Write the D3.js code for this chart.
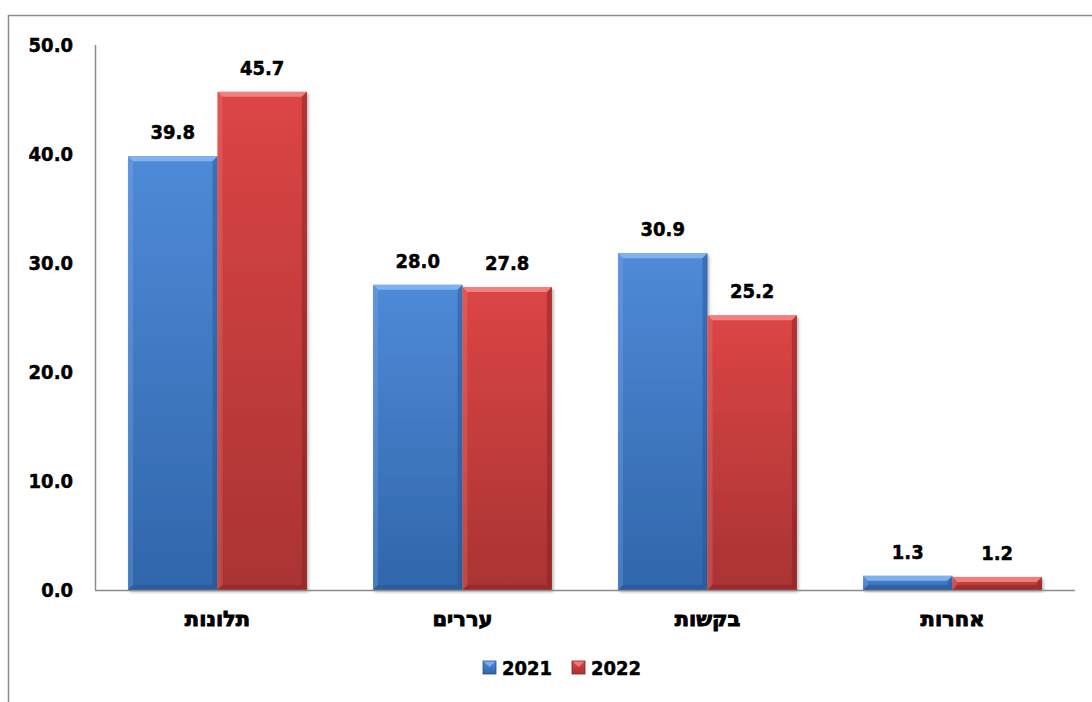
<!DOCTYPE html>
<html>
<head>
<meta charset="utf-8">
<script src="https://cdn.jsdelivr.net/npm/d3@7"></script>
<style>
  html, body { margin: 0; padding: 0; background: #fff; }
  svg { display: block; }
  text { font-family: "DejaVu Sans Condensed", "DejaVu Sans", sans-serif; font-weight: bold; fill: #000; stroke: #000; stroke-width: 0.45px; }
  text.cat { font-family: "DejaVu Sans", sans-serif; stroke-width: 0.9px; }
</style>
</head>
<body>
<svg id="chart" width="1092" height="702"></svg>
<script>
// Categories and yearly values (percent)
const categories = ["תלונות", "עררים", "בקשות", "אחרות"];
const seriesNames = ["2021", "2022"];
const values2021 = [39.8, 28.0, 30.9, 1.3];
const values2022 = [45.7, 27.8, 25.2, 1.2];
const yTicks = [0, 10, 20, 30, 40, 50];

const series = [
  { key: "s2021", name: seriesNames[0], values: values2021, top: "#4f8ad8", bottom: "#3066ab", light: "#8ab7f2", dark: "#23508c" },
  { key: "s2022", name: seriesNames[1], values: values2022, top: "#dc4545", bottom: "#aa3333", light: "#f48a8a", dark: "#7e2020" }
];

const svg = d3.select("#chart");

// chart frame
svg.append("rect")
  .attr("x", 8.5).attr("y", 15.5)
  .attr("width", 1100).attr("height", 700)
  .attr("fill", "none").attr("stroke", "#8c8c8c").attr("stroke-width", 1.5);

const plot = { left: 95, right: 1075, top: 45, bottom: 590 };

const x0 = d3.scaleBand().domain(categories).range([plot.left, plot.right]).paddingInner(0.27).paddingOuter(0.135);
const x1 = d3.scaleBand().domain(seriesNames).range([0, x0.bandwidth()]);
const y = d3.scaleLinear().domain([0, 50]).range([plot.bottom, plot.top]);

const defs = svg.append("defs");
const f = defs.append("filter").attr("id", "shadow").attr("x", "-10%").attr("y", "-10%").attr("width", "130%").attr("height", "130%");
f.append("feDropShadow").attr("dx", 1.5).attr("dy", 2).attr("stdDeviation", 1.5).attr("flood-color", "#000").attr("flood-opacity", 0.3);

// vertical gradient per series
series.forEach(s => {
  const g = defs.append("linearGradient").attr("id", "grad-" + s.key).attr("x1", 0).attr("y1", 0).attr("x2", 0).attr("y2", 1);
  g.append("stop").attr("offset", "0%").attr("stop-color", s.top);
  g.append("stop").attr("offset", "100%").attr("stop-color", s.bottom);
});

// y axis line
svg.append("line")
  .attr("x1", plot.left + 0.5).attr("x2", plot.left + 0.5)
  .attr("y1", plot.top).attr("y2", plot.bottom)
  .attr("stroke", "#8c8c8c").attr("stroke-width", 1.5);

// y tick labels
svg.append("g").selectAll("text").data(yTicks).join("text")
  .attr("x", 73).attr("y", d => y(d))
  .attr("dy", "0.35em")
  .attr("text-anchor", "end")
  .attr("font-size", 20)
  .text(d => d3.format(".1f")(d));

// bars with a bevelled look
const bev = 5;
const groups = svg.append("g").selectAll("g").data(categories).join("g")
  .attr("transform", d => `translate(${x0(d)},0)`);

series.forEach(s => {
  groups.each(function (cat, ci) {
    const g = d3.select(this).append("g").attr("filter", "url(#shadow)");
    const bx = x1(s.name), bw = x1.bandwidth();
    const by = y(s.values[ci]), bh = y(0) - by;
    const b = Math.min(bev, bh / 2, bw / 2);
    g.append("rect").attr("x", bx).attr("y", by).attr("width", bw).attr("height", bh)
      .attr("fill", `url(#grad-${s.key})`);
    // top bevel
    g.append("polygon").attr("points", [[bx, by], [bx + bw, by], [bx + bw - b, by + b], [bx + b, by + b]].join(" "))
      .attr("fill", s.light).attr("opacity", 0.85);
    // left bevel
    g.append("polygon").attr("points", [[bx, by], [bx + b, by + b], [bx + b, by + bh - b], [bx, by + bh]].join(" "))
      .attr("fill", s.light).attr("opacity", 0.25);
    // right bevel
    g.append("polygon").attr("points", [[bx + bw, by], [bx + bw, by + bh], [bx + bw - b, by + bh - b], [bx + bw - b, by + b]].join(" "))
      .attr("fill", s.dark).attr("opacity", 0.45);
    // bottom bevel
    g.append("polygon").attr("points", [[bx, by + bh], [bx + b, by + bh - b], [bx + bw - b, by + bh - b], [bx + bw, by + bh]].join(" "))
      .attr("fill", s.dark).attr("opacity", 0.4);
    // value label
    d3.select(this).append("text")
      .attr("x", bx + bw / 2).attr("y", by - 17)
      .attr("text-anchor", "middle")
      .attr("font-size", 20)
      .text(d3.format(".1f")(s.values[ci]));
  });
});

// x axis line
svg.append("line")
  .attr("x1", plot.left).attr("x2", plot.right)
  .attr("y1", plot.bottom + 0.5).attr("y2", plot.bottom + 0.5)
  .attr("stroke", "#8c8c8c").attr("stroke-width", 1.5);

// category labels
svg.append("g").selectAll("text").data(categories).join("text")
  .attr("class", "cat")
  .attr("x", d => x0(d) + x0.bandwidth() / 2)
  .attr("y", 626)
  .attr("text-anchor", "middle")
  .attr("direction", "rtl")
  .attr("font-size", 21)
  .text(d => d);

// legend
const legend = svg.append("g").attr("transform", "translate(483,661)");
const lg = legend.selectAll("g").data(series).join("g")
  .attr("transform", (d, i) => `translate(${i * 89},0)`);
lg.append("rect").attr("width", 13).attr("height", 13).attr("fill", d => `url(#grad-${d.key})`)
  .attr("stroke", d => d.dark).attr("stroke-width", 0.8);
lg.append("polygon").attr("points", "0.5,0.5 12.5,0.5 6.5,6").attr("fill", d => d.light).attr("opacity", 0.8);
lg.append("text").attr("x", 19).attr("y", 7).attr("dy", "0.35em").attr("font-size", 20).text(d => d.name);
</script>
</body>
</html>
